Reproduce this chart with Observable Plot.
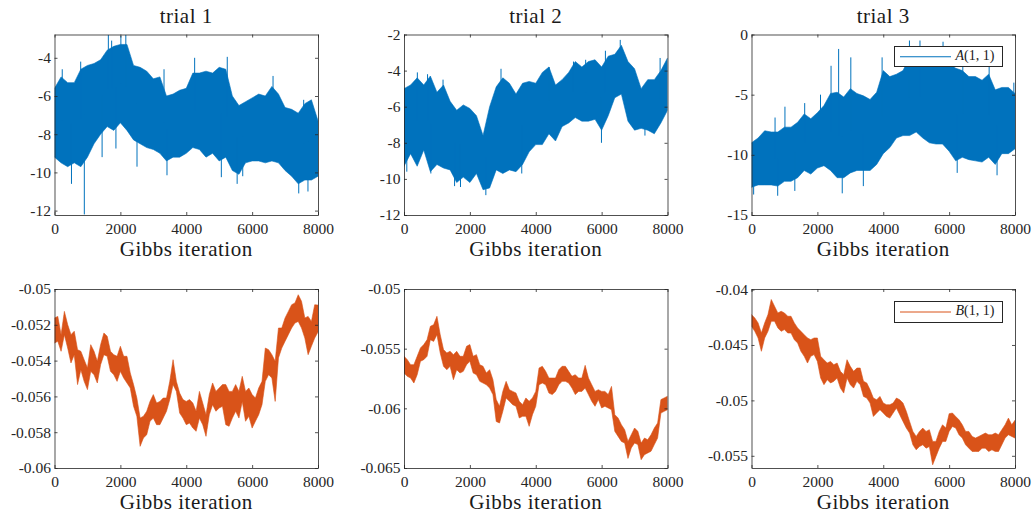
<!DOCTYPE html>
<html>
<head>
<meta charset="utf-8">
<script src="https://cdn.jsdelivr.net/npm/d3@7"></script>
<script src="https://cdn.jsdelivr.net/npm/@observablehq/plot@0.6"></script>
<style>
  body { margin: 0; background: #fff; }
  #fig { position: relative; width: 1034px; height: 518px; overflow: hidden; font-family: "Liberation Serif", serif; color: #262626; background: #fff; }
  .cell { position: absolute; }
  .lbl { position: absolute; transform: translateX(-50%); white-space: nowrap; font-size: 21px; line-height: 21px; letter-spacing: 0.5px; color: #1a1a1a; }
  .legend { position: absolute; box-sizing: border-box; border: 1px solid #262626; background: #fff; }
  .legend svg { position: absolute; left: 0; top: 0; }
  .legend span { position: absolute; font-size: 14px; line-height: 14px; white-space: nowrap; color: #1a1a1a; }
</style>
</head>
<body>
<div id="fig"></div>
<script>
// ---------------- data ----------------
const titles = ["trial 1", "trial 2", "trial 3"];
const xLabel = "Gibbs iteration";
const legendNames = ["A", "B"];
const legendArgs = "(1, 1)";
const xTicks = [0, 2000, 4000, 6000, 8000];

const iter200 = [0,200,400,600,800,1000,1200,1400,1600,1800,2000,2200,2400,2600,2800,3000,3200,3400,3600,3800,4000,4200,4400,4600,4800,5000,5200,5400,5600,5800,6000,6200,6400,6600,6800,7000,7200,7400,7600,7800,8000];
const iter100 = [0,100,200,300,400,500,600,700,800,900,1000,1100,1200,1300,1400,1500,1600,1700,1800,1900,2000,2100,2200,2300,2400,2500,2600,2700,2800,2900,3000,3100,3200,3300,3400,3500,3600,3700,3800,3900,4000,4100,4200,4300,4400,4500,4600,4700,4800,4900,5000,5100,5200,5300,5400,5500,5600,5700,5800,5900,6000,6100,6200,6300,6400,6500,6600,6700,6800,6900,7000,7100,7200,7300,7400,7500,7600,7700,7800,7900,8000];

// A(1,1), trial 1 : upper / lower envelope of the trace, plus isolated spikes
const aHi1 = [-5.6,-5.0,-5.3,-5.3,-4.6,-4.4,-4.3,-4.1,-3.6,-3.4,-3.3,-3.3,-4.4,-4.5,-4.7,-5.1,-5.0,-6.0,-5.9,-5.7,-5.6,-4.8,-4.8,-4.7,-4.8,-4.5,-4.6,-6.0,-6.5,-6.3,-6.1,-5.9,-6.0,-5.5,-5.9,-6.6,-6.7,-6.9,-6.4,-6.2,-7.3];
const aLo1 = [-9.2,-9.5,-9.7,-9.5,-9.7,-9.2,-8.5,-8.0,-7.6,-7.8,-7.4,-7.8,-8.3,-8.5,-8.7,-8.8,-9.0,-9.4,-9.2,-9.2,-9.0,-8.7,-8.8,-9.2,-9.0,-9.4,-9.2,-9.9,-10.1,-9.5,-9.4,-9.4,-9.5,-9.4,-9.5,-9.9,-10.2,-10.6,-10.4,-10.4,-10.2];
const aSpikes1 = [[220,-4.6],[780,-4.2],[1620,-2.8],[1720,-3.1],[2000,-2.85],[2150,-2.8],[3310,-4.6],[4240,-4.0],[5230,-3.95],[6620,-4.95],[7550,-6.2],
                  [500,-10.6],[890,-12.2],[1430,-9.2],[1850,-8.75],[2490,-9.7],[3400,-10.15],[5050,-10.25],[5530,-10.6],[5700,-10.2],[7400,-11.1],[7680,-11.0]];

// A(1,1), trial 2
const aHi2 = [-5.0,-4.8,-4.4,-4.8,-4.3,-5.2,-4.8,-5.7,-6.2,-5.9,-6.1,-6.5,-7.6,-6.0,-4.9,-4.4,-4.7,-5.3,-4.7,-4.6,-4.7,-4.1,-3.8,-4.8,-4.5,-4.1,-3.5,-3.8,-3.5,-3.4,-3.8,-3.2,-3.1,-2.6,-3.5,-3.9,-5.0,-4.5,-4.5,-4.0,-3.3];
const aLo2 = [-9.3,-8.6,-9.3,-8.4,-9.6,-9.2,-9.4,-9.5,-10.2,-9.9,-10.2,-9.7,-10.6,-10.5,-9.5,-9.7,-9.5,-9.6,-9.2,-8.5,-8.1,-8.1,-7.5,-7.9,-7.1,-6.9,-6.6,-6.8,-6.8,-6.7,-7.3,-6.5,-5.5,-5.3,-6.8,-7.3,-7.2,-7.3,-7.5,-6.9,-6.2];
const aSpikes2 = [[390,-4.1],[700,-4.2],[1170,-4.5],[2930,-3.9],[4390,-3.8],[5130,-3.5],[5500,-3.4],[6100,-2.9],[6550,-2.3],[7760,-3.3],
                  [70,-9.6],[800,-9.7],[1520,-10.4],[1700,-10.45],[2470,-10.9],[3560,-9.7],[5980,-8.0],[7300,-7.6]];

// A(1,1), trial 3
const aHi3 = [-9.0,-8.6,-8.0,-8.1,-8.1,-7.7,-7.7,-7.3,-6.6,-7.0,-6.5,-5.9,-4.9,-4.8,-5.2,-4.5,-4.9,-5.1,-5.4,-4.8,-3.0,-3.5,-3.3,-3.0,-1.9,-2.1,-1.9,-2.4,-2.3,-2.0,-2.4,-2.8,-3.0,-3.5,-3.5,-3.8,-3.3,-4.6,-4.4,-4.4,-4.9];
const aLo3 = [-12.7,-12.5,-12.5,-12.5,-12.6,-12.2,-12.2,-11.9,-11.3,-11.6,-11.1,-10.9,-11.3,-11.9,-11.9,-11.5,-11.3,-11.3,-11.3,-10.8,-9.9,-9.4,-8.6,-8.4,-8.4,-8.1,-8.6,-9.0,-9.1,-9.1,-9.7,-10.5,-10.2,-10.4,-10.5,-10.6,-10.2,-10.8,-9.9,-9.9,-9.5];
const aSpikes3 = [[700,-6.9],[1000,-6.0],[1600,-5.7],[2080,-5.0],[2400,-2.6],[2630,-1.2],[3000,-1.9],[3950,-1.9],[4780,-0.5],[5100,-0.5],[5800,-0.6],[6400,-1.6],[7200,-2.4],[7950,-4.0],
                  [50,-13.3],[780,-13.4],[1300,-13.0],[2740,-13.2],[3380,-12.6],[6230,-11.5],[7440,-11.7]];

// B(1,1), trial 1
const bHi1 = [-0.05162,-0.05153,-0.05255,-0.05125,-0.05199,-0.05255,-0.05236,-0.05339,-0.05348,-0.05395,
  -0.05441,-0.05311,-0.05348,-0.05404,-0.05311,-0.05246,-0.05264,-0.05348,-0.05367,-0.05376,
  -0.05320,-0.05376,-0.05376,-0.05469,-0.05534,-0.05609,-0.05721,-0.05711,-0.05683,-0.05628,
  -0.05590,-0.05637,-0.05628,-0.05609,-0.05609,-0.05516,-0.05395,-0.05516,-0.05581,-0.05618,
  -0.05628,-0.05618,-0.05637,-0.05683,-0.05572,-0.05637,-0.05702,-0.05590,-0.05525,-0.05572,
  -0.05553,-0.05534,-0.05534,-0.05572,-0.05572,-0.05534,-0.05572,-0.05488,-0.05572,-0.05553,
  -0.05590,-0.05609,-0.05553,-0.05516,-0.05330,-0.05339,-0.05367,-0.05404,-0.05218,-0.05218,
  -0.05162,-0.05125,-0.05088,-0.05078,-0.05032,-0.05069,-0.05162,-0.05153,-0.05181,-0.05088,-0.05090];
const bLo1 = [-0.05302,-0.05292,-0.05348,-0.05255,-0.05330,-0.05413,-0.05367,-0.05534,-0.05451,-0.05516,
  -0.05562,-0.05460,-0.05479,-0.05525,-0.05423,-0.05367,-0.05376,-0.05460,-0.05479,-0.05516,
  -0.05460,-0.05497,-0.05525,-0.05553,-0.05655,-0.05711,-0.05879,-0.05832,-0.05814,-0.05739,
  -0.05721,-0.05758,-0.05758,-0.05721,-0.05683,-0.05618,-0.05534,-0.05572,-0.05693,-0.05721,
  -0.05758,-0.05749,-0.05777,-0.05795,-0.05721,-0.05758,-0.05823,-0.05702,-0.05646,-0.05683,
  -0.05665,-0.05655,-0.05758,-0.05767,-0.05721,-0.05683,-0.05721,-0.05628,-0.05739,-0.05711,
  -0.05777,-0.05739,-0.05702,-0.05646,-0.05516,-0.05479,-0.05497,-0.05628,-0.05385,-0.05330,
  -0.05292,-0.05255,-0.05218,-0.05190,-0.05181,-0.05218,-0.05274,-0.05367,-0.05320,-0.05274,-0.05240];

// B(1,1), trial 2
const bHi2 = [-0.05564,-0.05592,-0.05634,-0.05634,-0.05564,-0.05494,-0.05466,-0.05425,-0.05313,-0.05299,
  -0.05229,-0.05383,-0.05508,-0.05536,-0.05522,-0.05550,-0.05522,-0.05564,-0.05564,-0.05480,
  -0.05466,-0.05564,-0.05550,-0.05634,-0.05648,-0.05704,-0.05676,-0.05760,-0.05927,-0.05983,
  -0.05858,-0.05774,-0.05844,-0.05858,-0.05872,-0.05941,-0.05969,-0.05913,-0.05941,-0.05913,
  -0.05858,-0.05662,-0.05648,-0.05690,-0.05746,-0.05746,-0.05746,-0.05676,-0.05648,-0.05648,
  -0.05690,-0.05732,-0.05718,-0.05746,-0.05746,-0.05640,-0.05746,-0.05802,-0.05858,-0.05844,
  -0.05858,-0.05858,-0.05885,-0.05816,-0.06053,-0.06081,-0.06137,-0.06179,-0.06277,-0.06221,
  -0.06165,-0.06193,-0.06291,-0.06249,-0.06263,-0.06221,-0.06165,-0.06123,-0.05927,-0.05913,-0.05899];
const bLo2 = [-0.05704,-0.05732,-0.05746,-0.05788,-0.05718,-0.05606,-0.05592,-0.05564,-0.05425,-0.05439,
  -0.05383,-0.05536,-0.05648,-0.05676,-0.05648,-0.05760,-0.05676,-0.05704,-0.05690,-0.05634,
  -0.05606,-0.05704,-0.05718,-0.05774,-0.05788,-0.05802,-0.05830,-0.05885,-0.06110,-0.06123,
  -0.06025,-0.05913,-0.05941,-0.05969,-0.05983,-0.06081,-0.06067,-0.06067,-0.06151,-0.06053,
  -0.05983,-0.05802,-0.05788,-0.05802,-0.05872,-0.05885,-0.05858,-0.05802,-0.05774,-0.05774,
  -0.05788,-0.05830,-0.05885,-0.05858,-0.05858,-0.05830,-0.05885,-0.05941,-0.05983,-0.05927,
  -0.05997,-0.05983,-0.05997,-0.06011,-0.06193,-0.06235,-0.06277,-0.06291,-0.06420,-0.06332,
  -0.06291,-0.06304,-0.06430,-0.06388,-0.06374,-0.06360,-0.06304,-0.06249,-0.06039,-0.06025,-0.06011];

// B(1,1), trial 3
const bHi3 = [-0.04226,-0.04256,-0.04301,-0.04392,-0.04301,-0.04226,-0.04090,-0.04151,-0.04211,-0.04196,
  -0.04211,-0.04241,-0.04241,-0.04301,-0.04346,-0.04377,-0.04407,-0.04437,-0.04452,-0.04437,
  -0.04437,-0.04602,-0.04633,-0.04663,-0.04648,-0.04678,-0.04663,-0.04738,-0.04768,-0.04633,
  -0.04693,-0.04738,-0.04708,-0.04708,-0.04828,-0.04843,-0.04904,-0.04979,-0.04994,-0.04964,
  -0.05024,-0.05039,-0.05039,-0.05024,-0.04979,-0.04994,-0.05024,-0.05099,-0.05190,-0.05280,
  -0.05325,-0.05280,-0.05250,-0.05280,-0.05265,-0.05370,-0.05370,-0.05280,-0.05220,-0.05250,
  -0.05120,-0.05114,-0.05145,-0.05175,-0.05220,-0.05280,-0.05280,-0.05325,-0.05340,-0.05325,
  -0.05310,-0.05295,-0.05310,-0.05310,-0.05295,-0.05310,-0.05265,-0.05220,-0.05160,-0.05220,-0.05180];
const bLo3 = [-0.04331,-0.04377,-0.04437,-0.04557,-0.04437,-0.04377,-0.04286,-0.04286,-0.04346,-0.04377,
  -0.04361,-0.04392,-0.04392,-0.04452,-0.04482,-0.04557,-0.04602,-0.04663,-0.04602,-0.04587,
  -0.04648,-0.04798,-0.04858,-0.04813,-0.04843,-0.04828,-0.04798,-0.04889,-0.04934,-0.04798,
  -0.04858,-0.04889,-0.04828,-0.04858,-0.04964,-0.04979,-0.05024,-0.05145,-0.05114,-0.05084,
  -0.05114,-0.05145,-0.05160,-0.05114,-0.05069,-0.05130,-0.05190,-0.05250,-0.05295,-0.05401,
  -0.05446,-0.05416,-0.05401,-0.05431,-0.05416,-0.05581,-0.05506,-0.05431,-0.05370,-0.05370,
  -0.05280,-0.05235,-0.05250,-0.05310,-0.05340,-0.05401,-0.05431,-0.05461,-0.05461,-0.05461,
  -0.05431,-0.05431,-0.05461,-0.05446,-0.05461,-0.05461,-0.05401,-0.05340,-0.05310,-0.05325,-0.05340];

// axis ticks and ranges
const yTicksA1 = [-12, -10, -8, -6, -4];
const yTicksA2 = [-12, -10, -8, -6, -4, -2];
const yTicksA3 = [-15, -10, -5, 0];
const yTicksB1 = [-0.06, -0.058, -0.056, -0.054, -0.052, -0.05];
const yTicksB2 = [-0.065, -0.06, -0.055, -0.05];
const yTicksB3 = [-0.055, -0.05, -0.045, -0.04];
const yDomA1 = [-12.23, -2.78];
const yDomA2 = [-12, -2];
const yDomA3 = [-15, 0];
const yDomB1 = [-0.06, -0.05];
const yDomB2 = [-0.065, -0.05];
const yDomB3 = [-0.0561, -0.03995];

// ---------------- layout ----------------
const blue = "#0072BD", orange = "#D95319", axisColor = "#262626";
const colLeft = [54.5, 404, 751.5];
const cellX = [0, 345, 690], cellW = [345, 345, 344];
const frameW = 263.5;
const rowTop = [34.5, 289], cellY = [0, 259], cellH = 259, frameH = [180.5, 179];

const fig = document.getElementById("fig");

function rows(iters, hi, lo) {
  return iters.map((it, i) => ({it, hi: hi[i], lo: lo[i]}));
}

const panels = [
  {row: 0, col: 0, color: blue, iters: iter200, hi: aHi1, lo: aLo1, spikes: aSpikes1, ticks: yTicksA1, dom: yDomA1},
  {row: 0, col: 1, color: blue, iters: iter200, hi: aHi2, lo: aLo2, spikes: aSpikes2, ticks: yTicksA2, dom: yDomA2},
  {row: 0, col: 2, color: blue, iters: iter200, hi: aHi3, lo: aLo3, spikes: aSpikes3, ticks: yTicksA3, dom: yDomA3},
  {row: 1, col: 0, color: orange, iters: iter100, hi: bHi1, lo: bLo1, spikes: null, ticks: yTicksB1, dom: yDomB1},
  {row: 1, col: 1, color: orange, iters: iter100, hi: bHi2, lo: bLo2, spikes: null, ticks: yTicksB2, dom: yDomB2},
  {row: 1, col: 2, color: orange, iters: iter100, hi: bHi3, lo: bLo3, spikes: null, ticks: yTicksB3, dom: yDomB3}
];

for (const p of panels) {
  const fh = frameH[p.row];
  const ml = colLeft[p.col] - cellX[p.col];
  const mr = cellW[p.col] - ml - frameW;
  const mt = rowTop[p.row] - cellY[p.row];
  const mb = cellH - mt - fh;
  const data = rows(p.iters, p.hi, p.lo);
  const marks = [
    Plot.areaY(data, {x: "it", y1: "lo", y2: "hi", fill: p.color, stroke: p.color, strokeWidth: 0.6, clip: true})
  ];
  if (p.spikes) {
    const mid = d3.scaleLinear().domain(p.iters).range(p.iters.map((_, i) => (p.hi[i] + p.lo[i]) / 2));
    marks.push(Plot.ruleX(p.spikes, {x: d => d[0], y1: d => d[1], y2: d => mid(d[0]), stroke: p.color, strokeWidth: 1, clip: true}));
  }
  marks.push(
    Plot.frame({stroke: axisColor, strokeWidth: 0.8}),
    Plot.tickY(p.ticks, {y: d => d, stroke: axisColor, strokeWidth: 0.8, insetRight: frameW - 3}),
    Plot.tickY(p.ticks, {y: d => d, stroke: axisColor, strokeWidth: 0.8, insetLeft: frameW - 3}),
    Plot.tickX(xTicks, {x: d => d, stroke: axisColor, strokeWidth: 0.8, insetTop: fh - 3}),
    Plot.tickX(xTicks, {x: d => d, stroke: axisColor, strokeWidth: 0.8, insetBottom: fh - 3}),
    Plot.axisX(xTicks, {tickSize: 0, tickPadding: 7, tickFormat: d => String(d), label: null}),
    Plot.axisY(p.ticks, {tickSize: 0, tickPadding: 4, tickFormat: d => String(d), label: null})
  );
  const svg = Plot.plot({
    width: cellW[p.col], height: cellH,
    marginLeft: ml, marginRight: mr, marginTop: mt, marginBottom: mb,
    x: {domain: [0, 8000]},
    y: {domain: p.dom},
    style: {fontFamily: '"Liberation Serif", serif', fontSize: "15.5px", color: axisColor, background: "transparent", overflow: "visible"},
    marks
  });
  const cell = document.createElement("div");
  cell.className = "cell";
  cell.style.left = cellX[p.col] + "px";
  cell.style.top = cellY[p.row] + "px";
  cell.appendChild(svg);
  fig.appendChild(cell);

  // x label
  const xl = document.createElement("div");
  xl.className = "lbl";
  xl.textContent = xLabel;
  xl.style.left = (colLeft[p.col] + frameW / 2) + "px";
  xl.style.top = (p.row === 0 ? 238.5 : 491.5) + "px";
  fig.appendChild(xl);

  if (p.row === 0) {
    const t = document.createElement("div");
    t.className = "lbl";
    t.textContent = titles[p.col];
    t.style.left = (colLeft[p.col] + frameW / 2) + "px";
    t.style.top = "5.8px";
    fig.appendChild(t);
  }
}

// legends (third column)
function legend(top, h, color, name) {
  const lg = document.createElement("div");
  lg.className = "legend";
  lg.style.left = "893.5px";
  lg.style.top = top + "px";
  lg.style.width = "109.5px";
  lg.style.height = h + "px";
  const ns = "http://www.w3.org/2000/svg";
  const s = document.createElementNS(ns, "svg");
  s.setAttribute("width", 108); s.setAttribute("height", h - 2);
  const ln = document.createElementNS(ns, "line");
  const cy = (h - 2) / 2;
  ln.setAttribute("x1", 5); ln.setAttribute("x2", 56);
  ln.setAttribute("y1", cy); ln.setAttribute("y2", cy);
  ln.setAttribute("stroke", color); ln.setAttribute("stroke-width", 1);
  s.appendChild(ln);
  lg.appendChild(s);
  const sp = document.createElement("span");
  sp.style.left = "61px";
  sp.style.top = (cy - 7.5) + "px";
  const it = document.createElement("i");
  it.textContent = name;
  sp.appendChild(it);
  sp.appendChild(document.createTextNode(legendArgs));
  lg.appendChild(sp);
  fig.appendChild(lg);
}
legend(45.5, 21.5, blue, legendNames[0]);
legend(300.5, 22, orange, legendNames[1]);
</script>
</body>
</html>
